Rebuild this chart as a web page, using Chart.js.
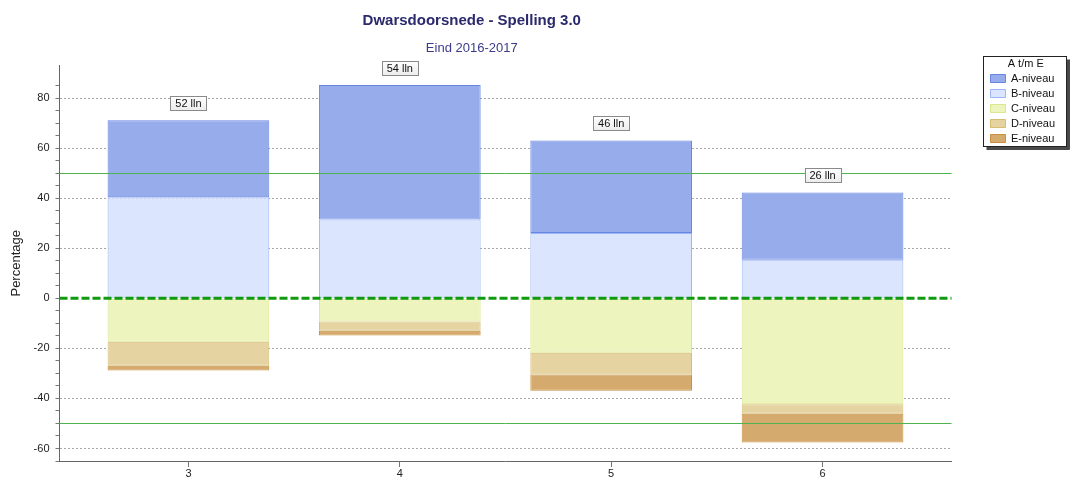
<!DOCTYPE html>
<html>
<head>
<meta charset="utf-8">
<script src="https://cdn.jsdelivr.net/npm/chart.js@4.4.1/dist/chart.umd.min.js"></script>
<style>
  html, body { margin: 0; padding: 0; background: #fff; }
  #wrap { width: 1071px; height: 480px; }
</style>
</head>
<body>
<div id="wrap"><canvas id="myChart"></canvas></div>
<script>
// groepen (x-as) en aantal leerlingen per groep
var categories = ['3', '4', '5', '6'];
var pupils = [52, 54, 46, 26];

// percentages per niveau (C, D, E onder de nullijn)
var aNiveau = [30.8, 53.7, 37.0, 26.9];
var bNiveau = [40.4, 31.5, 26.1, 15.4];
var cNiveau = [-17.3, -9.3, -21.7, -42.3];
var dNiveau = [-9.6, -3.7, -8.7, -3.8];
var eNiveau = [-1.9, -1.9, -6.5, -11.5];

var yLabels = [-60, -40, -20, 0, 20, 40, 60, 80];
var refLines = [50, -50];
var legendOrder = ['A-niveau', 'B-niveau', 'C-niveau', 'D-niveau', 'E-niveau'];

Chart.defaults.font.family = "'Liberation Sans', Arial, sans-serif";
Chart.defaults.color = '#222';

var extras = {
  id: 'extras',
  afterLayout: function(chart) {
    // titel en subtitel centreren boven het tekengebied zonder legenda
    chart.boxes.forEach(function(b) {
      if (b.constructor === Chart.Title._element) {
        b.left = 0;
        b.right = chart.chartArea.right - 8;
        b.width = b.right - b.left;
      }
    });
  },
  afterDatasetsDraw: function(chart) {
    var ctx = chart.ctx, area = chart.chartArea, y = chart.scales.y;
    // referentielijnen 50 / -50
    refLines.forEach(function(v) {
      var py = Math.round(y.getPixelForValue(v)) + 0.5;
      ctx.save();
      ctx.setLineDash([]);
      ctx.strokeStyle = '#4fb34f';
      ctx.lineWidth = 1;
      ctx.beginPath(); ctx.moveTo(area.left, py); ctx.lineTo(area.right, py); ctx.stroke();
      ctx.restore();
    });
    ctx.save();
    // nullijn
    var p0 = y.getPixelForValue(0);
    ctx.strokeStyle = '#0f9a0f';
    ctx.lineWidth = 3;
    ctx.setLineDash([8, 3]);
    ctx.beginPath(); ctx.moveTo(area.left, p0); ctx.lineTo(area.right, p0); ctx.stroke();
    ctx.setLineDash([]);

    // aantal leerlingen boven elke staaf
    var meta = chart.getDatasetMeta(1);
    ctx.font = "11px 'Liberation Sans', Arial, sans-serif";
    ctx.textAlign = 'center';
    ctx.textBaseline = 'middle';
    meta.data.forEach(function(bar, i) {
      var txt = pupils[i] + ' lln';
      var w = Math.round(ctx.measureText(txt).width) + 10, h = 14;
      var bx = Math.round(bar.x - w / 2) + 0.5, by = Math.round(bar.y - 10 - h) + 0.5;
      var g = ctx.createLinearGradient(0, by, 0, by + h);
      g.addColorStop(0, '#ffffff');
      g.addColorStop(1, '#ececec');
      ctx.fillStyle = g;
      ctx.fillRect(bx, by, w, h);
      ctx.strokeStyle = '#8a8a8a';
      ctx.lineWidth = 1;
      ctx.strokeRect(bx, by, w, h);
      ctx.fillStyle = '#111';
      ctx.fillText(txt, bar.x, by + h / 2 + 0.5);
    });
    ctx.restore();
  },
  afterDraw: function(chart) {
    // kader met schaduw om de legenda
    var lg = chart.legend, ctx = chart.ctx;
    if (!lg || !lg.legendHitBoxes.length) return;
    var hb = lg.legendHitBoxes;
    var last = hb[hb.length - 1];
    var left = Math.round(lg.left - 3) + 0.5;
    var right = Math.round(lg.right + 1) + 0.5;
    var top = Math.round(lg.top + 56) + 0.5;
    var bottom = Math.round(last.top + last.height + 2) + 0.5;
    ctx.save();
    ctx.fillStyle = '#4a4a4a';
    ctx.fillRect(right + 0.5, top + 3, 3, bottom - top);
    ctx.fillRect(left + 3, bottom + 0.5, right - left, 3);
    ctx.strokeStyle = '#222';
    ctx.lineWidth = 1;
    ctx.strokeRect(left, top, right - left, bottom - top);
    ctx.restore();
  }
};

function ds(label, values, bg, border) {
  return {
    label: label,
    data: values,
    backgroundColor: bg,
    borderColor: border,
    borderWidth: 1,
    borderSkipped: false,
    barPercentage: 0.9,
    categoryPercentage: 0.85
  };
}

var ctx = document.getElementById('myChart').getContext('2d');
var myChart = new Chart(ctx, {
  type: 'bar',
  data: {
    labels: categories,
    datasets: [
      ds('B-niveau', bNiveau, '#dbe5fd', '#9db5f6'),
      ds('A-niveau', aNiveau, '#97acea', '#6686e2'),
      ds('C-niveau', cNiveau, '#edf4bd', '#dce68c'),
      ds('D-niveau', dNiveau, '#e5d4a2', '#d7bc74'),
      ds('E-niveau', eNiveau, '#d4aa6e', '#c8903e')
    ]
  },
  options: {
    responsive: true,
    maintainAspectRatio: false,
    animation: false,
    layout: { padding: { left: 9, right: 6, top: 0, bottom: 0 } },
    plugins: {
      title: {
        display: true,
        text: 'Dwarsdoorsnede - Spelling 3.0',
        color: '#29296c',
        font: { size: 15, weight: 'bold' },
        padding: { top: 12, bottom: 6 }
      },
      subtitle: {
        display: true,
        text: 'Eind 2016-2017',
        color: '#3b3b8a',
        font: { size: 13 },
        padding: { top: 5, bottom: 9 }
      },
      legend: {
        position: 'right',
        align: 'start',
        title: {
          display: true,
          text: 'A t/m E',
          color: '#111',
          position: 'center',
          font: { size: 11, lineHeight: 1 },
          padding: { top: 58, bottom: 0 }
        },
        labels: {
          boxWidth: 15,
          boxHeight: 8,
          padding: 4,
          color: '#111',
          font: { size: 11 },
          sort: function(a, b) { return legendOrder.indexOf(a.text) - legendOrder.indexOf(b.text); }
        }
      },
      tooltip: { enabled: false }
    },
    scales: {
      x: {
        type: 'linear',
        stacked: true,
        offset: false,
        min: 2.39,
        max: 6.61,
        afterBuildTicks: function(s) {
          s.ticks = categories.map(function(c) { return { value: Number(c) }; });
        },
        ticks: { padding: 1, color: '#222', font: { size: 11, lineHeight: 1 }, callback: function(v) { return String(v); } },
        grid: { offset: false, drawOnChartArea: false, tickLength: 6, tickColor: '#777' },
        border: { color: '#666' }
      },
      y: {
        stacked: true,
        min: -65,
        max: 93,
        ticks: {
          stepSize: 5,
          autoSkip: false,
          padding: 6,
          color: '#222',
          font: { size: 11 },
          callback: function(v) { return yLabels.indexOf(v) >= 0 ? v : ''; }
        },
        grid: {
          tickLength: 4,
          color: function(c) {
            var v = c.tick ? c.tick.value : null;
            return (yLabels.indexOf(v) >= 0 && v !== 0) ? '#a8a8a8' : 'rgba(0,0,0,0)';
          },
          tickColor: function(c) {
            return (c.tick && c.tick.value % 5 === 0) ? '#777' : 'rgba(0,0,0,0)';
          }
        },
        border: { color: '#666', dash: [2, 2] },
        title: {
          display: true,
          text: 'Percentage',
          color: '#222',
          font: { size: 13 },
          padding: { top: 0, bottom: 3 }
        }
      },
      pad: {
        type: 'linear',
        position: 'right',
        grid: { display: false },
        border: { display: false },
        ticks: { display: false },
        afterFit: function(s) { s.width = 35; }
      }
    }
  },
  plugins: [extras]
});
</script>
</body>
</html>
